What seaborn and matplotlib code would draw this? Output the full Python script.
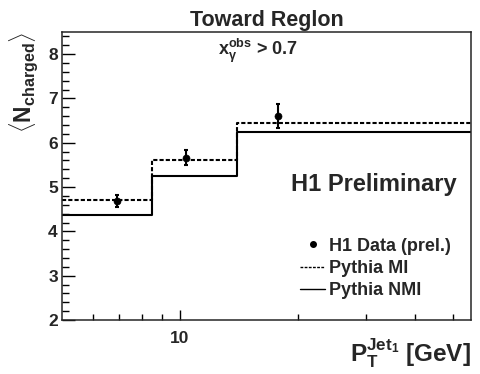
import numpy as np
import pandas as pd
import matplotlib
matplotlib.use("Agg")
import matplotlib.pyplot as plt
import seaborn as sns
from matplotlib.lines import Line2D
from matplotlib.ticker import FixedLocator, NullFormatter, FixedFormatter, MultipleLocator

# --- data ---
bin_edges = [5.0, 8.5, 14.0, 55.5]
pythia_mi = [4.70, 5.60, 6.45]
pythia_nmi = [4.38, 5.24, 6.25]
data_x = [6.9, 10.4, 17.8]
data_y = [4.68, 5.66, 6.60]
data_err = [0.14, 0.17, 0.27]

sns.set_style("ticks")
plt.rcParams["font.family"] = ["Liberation Sans", "DejaVu Sans"]
plt.rcParams["font.weight"] = "bold"
plt.rcParams["mathtext.fontset"] = "custom"
plt.rcParams["mathtext.rm"] = "Liberation Sans:bold"
plt.rcParams["mathtext.bf"] = "Liberation Sans:bold"
plt.rcParams["mathtext.it"] = "Liberation Sans:bold"
plt.rcParams["axes.linewidth"] = 1.1

fig = plt.figure(figsize=(4.81, 3.74), dpi=100)
ax = fig.add_axes([62 / 481, 54 / 374, 409 / 481, 288 / 374])

steps = pd.DataFrame({
    "x": bin_edges * 2,
    "y": pythia_mi + [pythia_mi[-1]] + pythia_nmi + [pythia_nmi[-1]],
    "model": ["Pythia MI"] * 4 + ["Pythia NMI"] * 4,
})
sns.lineplot(data=steps, x="x", y="y", style="model",
             dashes={"Pythia MI": (2, 1), "Pythia NMI": ""},
             color="black", linewidth=1.5, drawstyle="steps-post",
             legend=False, ax=ax)

ax.errorbar(data_x, data_y, yerr=data_err, fmt="none", ecolor="black",
            elinewidth=1.5, capsize=1.5, capthick=1.5, zorder=3)
sns.scatterplot(x=data_x, y=data_y, color="black", s=26, edgecolor="black",
                zorder=4, ax=ax)

ax.set_xscale("log")
ax.set_xlim(bin_edges[0], bin_edges[-1])
ax.set_ylim(2, 8.5)

ax.xaxis.set_major_locator(FixedLocator([10]))
ax.xaxis.set_major_formatter(FixedFormatter(["10"]))
ax.xaxis.set_minor_locator(FixedLocator([6, 7, 8, 9, 20, 30, 40, 50]))
ax.xaxis.set_minor_formatter(NullFormatter())
ax.yaxis.set_major_locator(MultipleLocator(1))
ax.yaxis.set_minor_locator(MultipleLocator(0.2))

ax.tick_params(axis="both", which="both", direction="in", color="black",
               labelsize=12.5, top=False, right=False)
ax.tick_params(axis="y", which="major", length=9, width=1, pad=3)
ax.tick_params(axis="y", which="minor", length=5, width=1)
ax.tick_params(axis="x", which="major", length=7, width=1, pad=8)
ax.tick_params(axis="x", which="minor", length=4, width=1)
for lab in ax.get_xticklabels() + ax.get_yticklabels():
    lab.set_fontweight("bold")

ax.set_title("Toward Reglon", fontsize=15.5, fontweight="bold", pad=4)
ax.set_ylabel(r"$\langle\mathbf{N}_{\mathbf{charged}}\rangle$", fontsize=16.5,
              loc="top")
ax.yaxis.set_label_coords(-0.055, 1.0)
ax.set_xlabel(r"$\mathbf{P}_{\mathbf{T}}^{\mathbf{Jet}_{\mathbf{1}}}$ [GeV]",
              fontsize=17.5, fontweight="bold", loc="right")
ax.xaxis.set_label_coords(1.0, -0.055)
ax.xaxis.label.set_va("top")

ax.text(0.48, 0.985, r"$\mathbf{x}_{\gamma}^{\mathbf{obs}}$ > 0.7",
        transform=ax.transAxes, ha="center", va="top", fontsize=13,
        fontweight="bold")
ax.text(0.965, 0.47, "H1 Preliminary", transform=ax.transAxes, ha="right",
        va="center", fontsize=17, fontweight="bold")

handles = [
    Line2D([], [], marker="o", color="black", linestyle="none", markersize=4),
    Line2D([], [], color="black", linestyle=(0, (2, 1)), linewidth=1),
    Line2D([], [], color="black", linewidth=1),
]
leg = ax.legend(handles, ["H1 Data (prel.)", "Pythia MI", "Pythia NMI"],
                loc="lower right", bbox_to_anchor=(0.99, 0.015), frameon=False,
                handlelength=1.4, handletextpad=0.2, labelspacing=0.3,
                prop={"size": 13, "weight": "bold"})

fig.savefig("out.png", dpi=100)
